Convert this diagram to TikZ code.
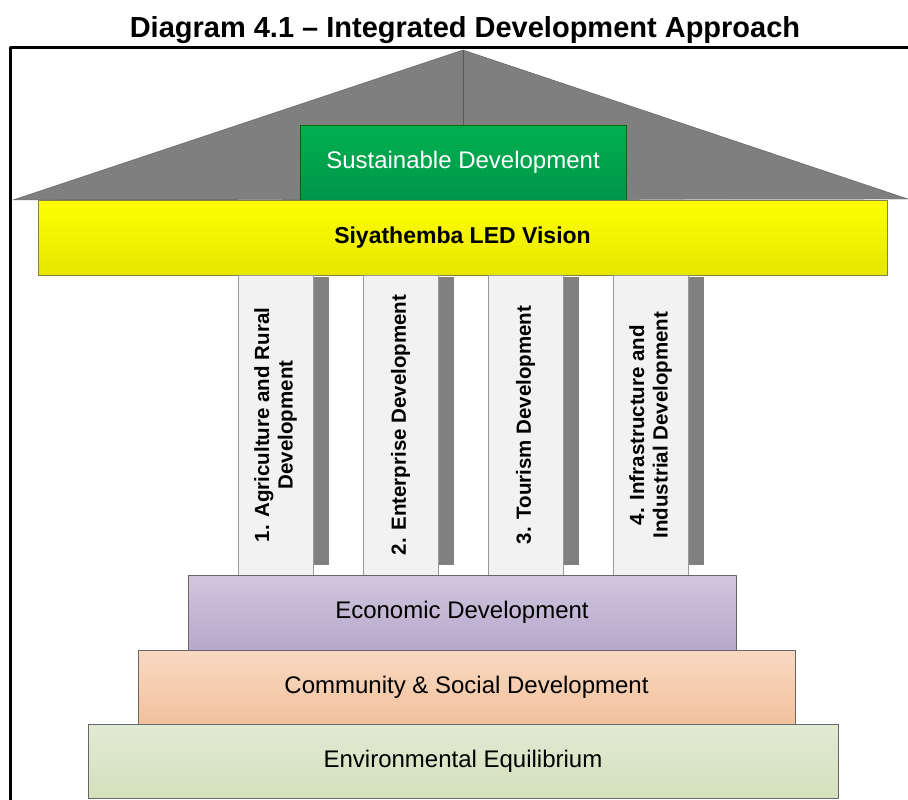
\documentclass[tikz,border=0pt]{standalone}
\usepackage{fontspec}
\setmainfont{Liberation Sans}

\definecolor{roofgray}{HTML}{7F7F7F}
\definecolor{shadowgray}{HTML}{808080}
\definecolor{greentop}{HTML}{00B050}
\definecolor{greenbot}{HTML}{00964A}
\definecolor{yellowtop}{HTML}{FFFF00}
\definecolor{yellowbot}{HTML}{E6E600}
\definecolor{pillarfill}{HTML}{F2F2F2}
\definecolor{ecotop}{HTML}{D0C7DF}
\definecolor{ecobot}{HTML}{B6A8CA}
\definecolor{comtop}{HTML}{F9D9C2}
\definecolor{combot}{HTML}{F2C19D}
\definecolor{envtop}{HTML}{E2EAD3}
\definecolor{envbot}{HTML}{D4E0BC}

\begin{document}
\begin{tikzpicture}[x=1pt,y=-1pt,line join=round,
  layer/.style={draw=black!60, thin, rectangle, inner sep=0pt,
    font=\fontsize{24}{28}\selectfont},
  pillar/.style={draw=black!40, fill=pillarfill, rectangle, inner sep=0pt,
    rotate=90, minimum width=300pt, minimum height=75pt, align=center,
    font=\bfseries\fontsize{20.5}{23.5}\selectfont}]

% ===== 参数 =====
\def\pw{75}      % pillar width (px)
\def\pgap{125}   % pillar spacing
\def\pleft{238}  % left edge of first pillar

\useasboundingbox (0,0) rectangle (908,800);

% ===== 标题 =====
\node[anchor=base, font=\bfseries\fontsize{29}{32}\selectfont] (title) at (465,38)
  {Diagram 4.1 -- Integrated Development Approach};

% ===== 外框 =====
\draw[line width=3.5pt] (10.5,800) -- (10.5,47.5) -- (908,47.5);

% ===== 屋顶 =====
\fill[roofgray, draw=black!65] (13,200) -- (463,50) -- (908,199) -- cycle;
\draw[black!65] (463,50) -- (463,125);

\node[layer, draw=green!40!black, top color=greentop, bottom color=greenbot,
  text=white, minimum width=326pt, minimum height=75pt] (sust) at (463,162.5)
  {Sustainable Development};

% ===== 横梁 =====
\node[layer, draw=black!55!yellow, top color=yellowtop, bottom color=yellowbot,
  font=\bfseries\fontsize{23}{28}\selectfont,
  minimum width=849pt, minimum height=75pt] (vision) at (462.5,237.5)
  {Siyathemba LED Vision};

% ===== 柱子 =====
\foreach \i/\txt in {1/{1. Agriculture and Rural\\Development},
                     2/{2. Enterprise Development},
                     3/{3. Tourism Development},
                     4/{4. Infrastructure and\\Industrial Development}}{
  \pgfmathsetmacro{\xl}{\pleft+\pgap*(\i-1)}
  \fill[shadowgray] ({\xl+\pw},277) rectangle ({\xl+\pw+16},565);
  \node[pillar] (pillar\i) at ({\xl+\pw/2},425) {\txt};
}

% ===== 台阶 =====
\node[layer, top color=ecotop, bottom color=ecobot,
  minimum width=548pt, minimum height=75pt] (eco) at (462,612.5)
  {Economic Development};
\node[layer, top color=comtop, bottom color=combot,
  minimum width=657pt, minimum height=74pt] (com) at (466.5,687)
  {Community \& Social Development};
\node[layer, top color=envtop, bottom color=envbot,
  minimum width=750pt, minimum height=74pt] (env) at (463,761)
  {Environmental Equilibrium};

\end{tikzpicture}
\end{document}
